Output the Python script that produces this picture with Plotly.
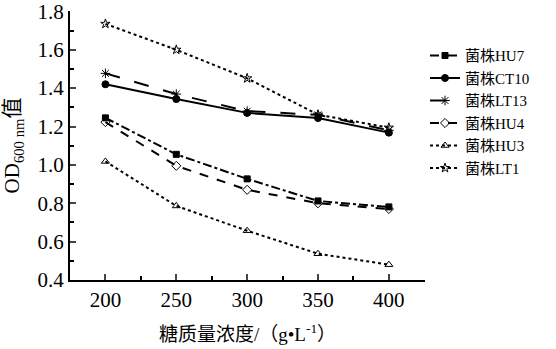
import plotly.graph_objects as go

conc = [200, 250, 300, 350, 400]
hu7 = [1.245, 1.055, 0.927, 0.812, 0.781]
ct10 = [1.420, 1.343, 1.271, 1.244, 1.168]
lt13 = [1.477, 1.369, 1.280, 1.261, 1.180]
hu4 = [1.223, 0.995, 0.870, 0.800, 0.770]
hu3 = [1.018, 0.786, 0.657, 0.537, 0.480]
lt1 = [1.735, 1.600, 1.451, 1.262, 1.194]
ytick_vals = [0.4, 0.6, 0.8, 1.0, 1.2, 1.4, 1.6, 1.8]
ytick_text = ["0.4", "0.6", "0.8", "1.0", "1.2", "1.4", "1.6", "1.8"]

names = ["菌株HU7", "菌株CT10", "菌株LT13", "菌株HU4", "菌株HU3", "菌株LT1"]
series = [hu7, ct10, lt13, hu4, hu3, lt1]
dashes = ["dashdot", "solid", "longdash", "dash", "dot", "dot"]
symbols = ["square", "circle", "asterisk-open", "diamond-open", "triangle-up-open", "star-open"]
sizes = [6, 7, 8, 7, 7, 7]

FONT = "Liberation Serif, Times New Roman, Noto Sans CJK SC"

fig = go.Figure()
for n, s, d, sym, sz in zip(names, series, dashes, symbols, sizes):
    fig.add_trace(go.Scatter(
        x=conc, y=s, name=n, mode="lines+markers",
        line=dict(color="black", width=2, dash=d),
        marker=dict(symbol=sym, size=sz, color="black",
                    line=dict(color="black", width=1)),
    ))

fig.update_layout(
    width=556, height=349,
    margin=dict(l=70, r=131, t=11, b=69, autoexpand=False),
    paper_bgcolor="white", plot_bgcolor="white",
    font=dict(family=FONT, color="black", size=20),
    legend=dict(x=1.0, y=0.895, xanchor="left", yanchor="top",
                font=dict(family=FONT, size=15), itemwidth=30,
                tracegroupgap=0, bgcolor="rgba(0,0,0,0)"),
    showlegend=True,
)
fig.update_xaxes(
    range=[175, 425.5], tickvals=conc, ticks="inside", ticklen=6, tickwidth=2,
    showline=True, linecolor="black", linewidth=2, showgrid=False, zeroline=False,
    minor=dict(dtick=25, tick0=175, ticks="inside", ticklen=4, tickwidth=2, tickcolor="black"),
    tickfont=dict(size=21), ticklabeloverflow="allow",
    title=dict(text="糖质量浓度/（g•L<sup>-1</sup>）", font=dict(size=19), standoff=16),
)
fig.update_yaxes(
    range=[0.4, 1.802], tickvals=ytick_vals, ticktext=ytick_text, ticks="inside",
    ticklen=6, tickwidth=2, ticklabeloverflow="allow",
    showline=True, linecolor="black", linewidth=2, showgrid=False, zeroline=False,
    minor=dict(dtick=0.1, tick0=0.4, ticks="inside", ticklen=4, tickwidth=2, tickcolor="black"),
    tickfont=dict(size=21),
    title=dict(text="OD<sub>600 nm</sub>值", font=dict(size=21), standoff=12),
)

fig.write_html("out.html")
